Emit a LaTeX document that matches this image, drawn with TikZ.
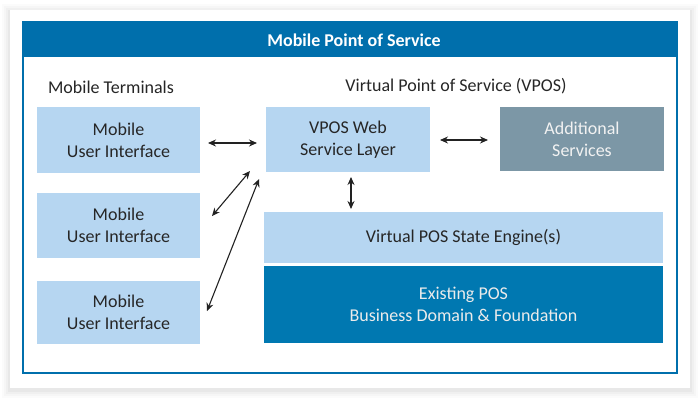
\documentclass[tikz,border=0pt]{standalone}
\usepackage{fontspec}
\setmainfont{Carlito}
\usetikzlibrary{arrows.meta}
\definecolor{hdrblue}{HTML}{006FAC}
\definecolor{lightbox}{HTML}{B6D6F1}
\definecolor{darkbox}{HTML}{0078B1}
\definecolor{greybox}{HTML}{7C97A6}
\definecolor{arrowc}{HTML}{222222}
\tikzset{
  box/.style={fill=lightbox, draw=none, inner sep=0pt, align=center, font=\fontsize{18}{22}\selectfont, text=black!85},
  conn/.style={draw=arrowc, line width=1.1pt, {Stealth[length=8pt,width=7pt]}-{Stealth[length=8pt,width=7pt]}},
  lbl/.style={font=\fontsize{18}{20}\selectfont, text=black!85, inner sep=0pt}
}
\begin{document}
\begin{tikzpicture}[x=1pt,y=-1pt]
\useasboundingbox (0,0) rectangle (700,400);
\fill[white] (0,0) rectangle (700,400);
% card shadow
\foreach \d/\o in {8/0.015,6/0.02,4/0.025,2/0.03}{
  \fill[black,opacity=\o] (10-\d,10-\d+2) rectangle (690+\d,390+\d);
}
\fill[white] (10,10) rectangle (690,388);
% frame
\draw[hdrblue, line width=1.2pt] (23,22) rectangle (677,373);
\fill[hdrblue] (23,22) rectangle (677,57);
\node[font=\bfseries\fontsize{18}{20}\selectfont, text=white] (title) at (354,40) {Mobile Point of Service};
\node[lbl] (mt) at (111,87) {Mobile Terminals};
\node[lbl] (vp) at (456,86) {Virtual Point of Service (VPOS)};
% boxes
\node[box, minimum width=163pt, minimum height=66pt] (m1) at (118.5,140) {Mobile\\User Interface};
\node[box, minimum width=163pt, minimum height=65pt] (m2) at (118.5,225.5) {Mobile\\User Interface};
\node[box, minimum width=163pt, minimum height=63pt] (m3) at (118.5,312.5) {Mobile\\User Interface};
\node[box, minimum width=164pt, minimum height=65pt] (ws) at (348,139.5) {VPOS Web\\Service Layer};
\node[box, fill=greybox, text=white!95!black, minimum width=164pt, minimum height=64pt] (as) at (582,139) {Additional\\Services};
\node[box, minimum width=399pt, minimum height=51pt] (se) at (463.5,237.5) {Virtual POS State Engine(s)};
\node[box, fill=darkbox, text=white!92!black, minimum width=399pt, minimum height=77pt] (ex) at (463.5,304.5) {Existing POS\\Business Domain \& Foundation};
% connectors
\coordinate (a1s) at (208,143);
\coordinate (a1e) at (257,143);
\draw[conn] (a1s) -- (a1e);
\coordinate (a2s) at (440,140);
\coordinate (a2e) at (488,140);
\draw[conn] (a2s) -- (a2e);
\coordinate (a3s) at (351,177);
\coordinate (a3e) at (351,209);
\draw[conn] (a3s) -- (a3e);
\coordinate (a4s) at (250,171);
\coordinate (a4e) at (212,216);
\draw[conn] (a4s) -- (a4e);
\coordinate (a5s) at (259,179);
\coordinate (a5e) at (207,311);
\draw[conn] (a5s) -- (a5e);
\end{tikzpicture}
\end{document}
